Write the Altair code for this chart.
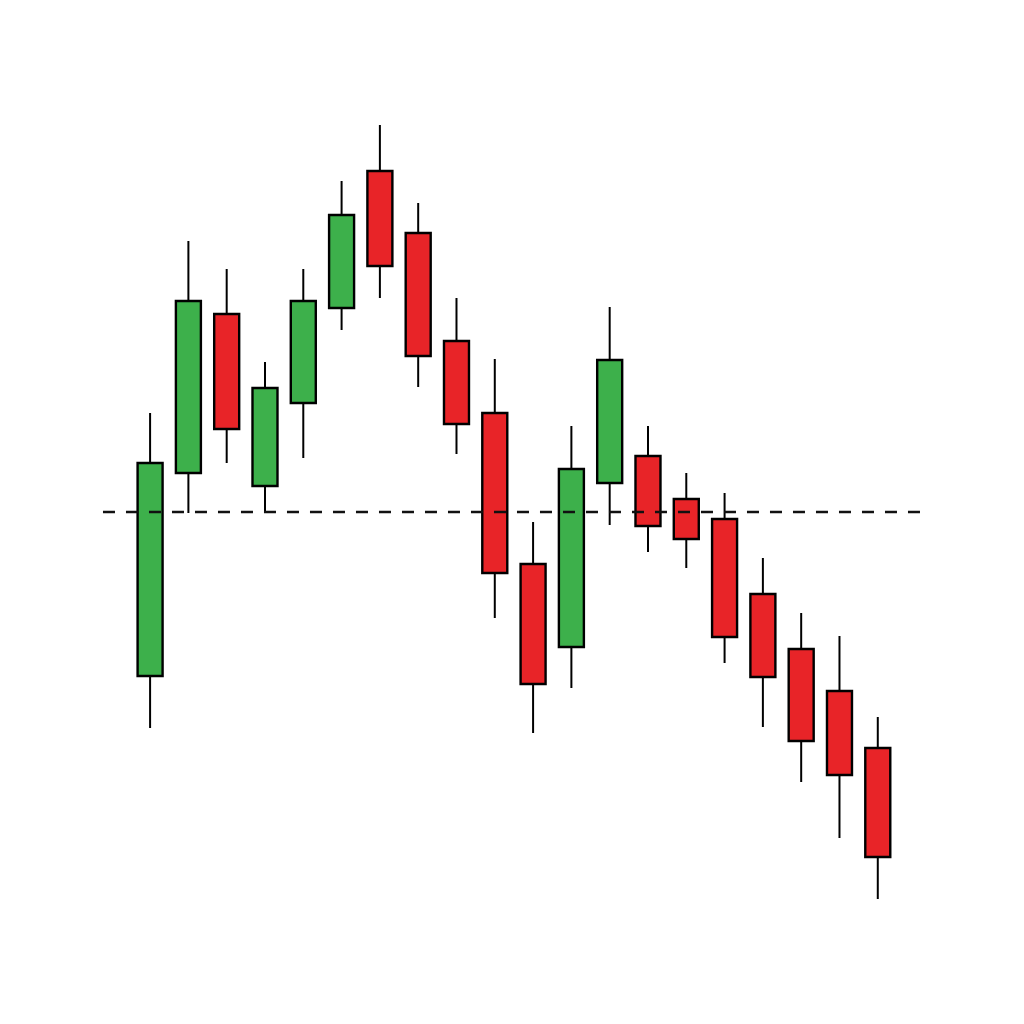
import altair as alt
import pandas as pd

# Candlestick values (arbitrary price units)
opens  = [33.2, 53.5, 69.4, 52.2, 60.5, 70.0, 83.7, 77.5, 66.7, 59.5,
          44.4, 36.1, 52.5, 55.2, 50.9, 48.9, 41.4, 35.9, 31.7, 26.0]
closes = [54.5, 70.7, 57.9, 62.0, 70.7, 79.3, 74.2, 65.2, 58.4, 43.5,
          32.4, 53.9, 64.8, 48.2, 46.9, 37.1, 33.1, 26.7, 23.3, 15.1]
highs  = [59.5, 76.7, 73.9, 64.6, 73.9, 82.7, 88.3, 80.5, 71.0, 64.9,
          48.6, 58.2, 70.1, 58.2, 53.5, 51.5, 45.0, 39.5, 37.2, 29.1]
lows   = [28.0, 49.5, 54.5, 49.6, 55.0, 67.8, 71.0, 62.1, 55.4, 39.0,
          27.5, 32.0, 48.3, 45.6, 44.0, 34.5, 28.1, 22.6, 17.0, 10.9]
periods = list(range(len(opens)))

# Horizontal support level (dashed line) and its extent in periods
level_value = [49.6]
level_start = [-1.23]
level_end = [20.15]

GREEN = "#3DB04B"
RED = "#E82428"

df = pd.DataFrame({"t": periods, "open": opens, "close": closes,
                   "high": highs, "low": lows})
lvl = pd.DataFrame({"y": level_value, "x0": level_start, "x1": level_end})

xscale = alt.Scale(domain=[-3.71, 22.40], nice=False, zero=False, padding=0)
yscale = alt.Scale(domain=[0, 100], nice=False, zero=False)

base = alt.Chart(df).encode(
    x=alt.X("t:Q", scale=xscale, axis=None)
)

wicks = base.mark_rule(color="black", strokeWidth=2).encode(
    y=alt.Y("low:Q", scale=yscale, axis=None),
    y2="high:Q",
)

bodies = base.mark_bar(size=25, stroke="black", strokeWidth=2.4).encode(
    y=alt.Y("open:Q", scale=yscale, axis=None),
    y2="close:Q",
    color=alt.condition("datum.open < datum.close", alt.value(GREEN), alt.value(RED)),
)

level = alt.Chart(lvl).mark_rule(color="#111111", strokeWidth=2.4, strokeDash=[12, 11]).encode(
    x=alt.X("x0:Q", scale=xscale, axis=None),
    x2="x1:Q",
    y=alt.Y("y:Q", scale=yscale, axis=None),
)

chart = alt.layer(wicks, bodies, level).properties(
    width=1000, height=1000, padding=0, background="white"
).configure_view(stroke=None)

chart.save("out.html", embed_options={"renderer": "svg", "actions": False})
